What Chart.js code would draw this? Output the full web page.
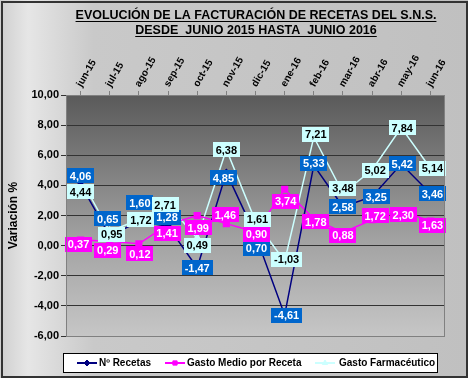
<!DOCTYPE html>
<html>
<head>
<meta charset="utf-8">
<script src="https://cdn.jsdelivr.net/npm/chart.js@4/dist/chart.umd.min.js"></script>
<style>
  body { margin: 0; background: #c0c0c0; }
</style>
</head>
<body>
<canvas id="grafico" width="468" height="378"></canvas>
<script>
// Datos
const meses = ['jun-15', 'jul-15', 'ago-15', 'sep-15', 'oct-15', 'nov-15', 'dic-15',
               'ene-16', 'feb-16', 'mar-16', 'abr-16', 'may-16', 'jun-16'];
const recetas = [4.06, 0.65, 1.60, 1.28, -1.47, 4.85, 0.70, -4.61, 5.33, 2.58, 3.25, 5.42, 3.46];
const gastoMedio = [0.37, 0.29, 0.12, 1.41, 1.99, 1.46, 0.90, 3.74, 1.78, 0.88, 1.72, 2.30, 1.63];
const gastoFarma = [4.44, 0.95, 1.72, 2.71, 0.49, 6.38, 1.61, -1.03, 7.21, 3.48, 5.02, 7.84, 5.14];
const yMin = -6, yMax = 10, yPaso = 2;

// desplazamiento de las etiquetas respecto al punto (px)
const despRecetasY = [-9, -17, -19, -9, 0, 5, 13, 0, -2, 0, 0, 0, 0];
const despRecetasX = [0, -2, 1, -1, 0, -3, 1, 2, 0, 0, 4, 1, 2];
const despFarmaY = [13, 3, 0, 0, 7, 0, -2, -2, -3, -5, 0, 0, 0];
const despFarmaX = [0, 2, 2, -3, 0, 0, 2, 2, 2, 0, 3, 1, 2];
const despMedioY = [4, 9, 10, 9, 12, -9, 2, 12, 3, 3, -4, 4, 4];
const despMedioX = [-2, -2, 1, -1, 1, -1, 1, 1, 2, 0, 3, 2, 2];

const fmt = v => v.toFixed(2).replace('.', ',');
const fuente = '"Liberation Sans", Arial, sans-serif';

// fondo, marco y título
const fondo = {
  id: 'fondo',
  beforeDraw(chart) {
    const ctx = chart.ctx, a = chart.chartArea;
    ctx.save();
    let g = ctx.createLinearGradient(0, 0, chart.width, 0);
    g.addColorStop(0, '#cfcfcf');
    g.addColorStop(0.06, '#e6e6e6');
    g.addColorStop(0.2, '#c9c9c9');
    g.addColorStop(1, '#c0c0c0');
    ctx.fillStyle = g;
    ctx.fillRect(0, 0, chart.width, chart.height);
    ctx.strokeStyle = '#333';
    ctx.lineWidth = 2;
    ctx.strokeRect(2, 2, chart.width - 3, chart.height - 3);

    g = ctx.createLinearGradient(0, a.top, 0, a.bottom);
    g.addColorStop(0, '#5a5a5a');
    g.addColorStop(0.6, '#a2a2a2');
    g.addColorStop(1, '#c6c6c6');
    ctx.fillStyle = g;
    ctx.fillRect(a.left, a.top, a.right - a.left, a.bottom - a.top);

    // título subrayado
    ctx.fillStyle = '#000';
    ctx.strokeStyle = '#000';
    ctx.lineWidth = 1;
    ctx.font = 'bold 12.5px ' + fuente;
    ctx.textAlign = 'center';
    ctx.textBaseline = 'alphabetic';
    const lineas = ['EVOLUCIÓN DE LA FACTURACIÓN DE RECETAS DEL S.N.S.', 'DESDE  JUNIO 2015 HASTA  JUNIO 2016'];
    lineas.forEach((t, i) => {
      const y = 19 + i * 15, cx = 256;
      ctx.fillText(t, cx, y);
      const w = ctx.measureText(t).width;
      ctx.beginPath();
      ctx.moveTo(cx - w / 2, y + 2.5);
      ctx.lineTo(cx + w / 2, y + 2.5);
      ctx.stroke();
    });
    ctx.restore();
  },
  afterDraw(chart) {
    const ctx = chart.ctx, a = chart.chartArea;
    ctx.save();
    ctx.strokeStyle = '#808080';
    ctx.lineWidth = 1;
    ctx.strokeRect(a.left + 0.5, a.top + 0.5, a.right - a.left - 1, a.bottom - a.top);

    // leyenda
    ctx.fillStyle = '#fff';
    ctx.fillRect(63, 353, 374, 19);
    ctx.strokeStyle = '#000';
    ctx.strokeRect(63.5, 353.5, 374, 19);
    const posX = [77, 165, 315];
    ctx.font = 'bold 10px ' + fuente;
    ctx.textBaseline = 'middle';
    ctx.textAlign = 'left';
    chart.data.datasets.forEach((ds, i) => {
      const x = posX[i], y = 363;
      ctx.strokeStyle = ds.borderColor;
      ctx.lineWidth = 2;
      ctx.beginPath();
      ctx.moveTo(x, y);
      ctx.lineTo(x + 20, y);
      ctx.stroke();
      ctx.fillStyle = ds.pointBackgroundColor;
      ctx.strokeStyle = ds.borderColor;
      ctx.lineWidth = 1;
      Chart.helpers.drawPoint(ctx, {pointStyle: ds.pointStyle, radius: 3, rotation: 0, borderWidth: 1}, x + 10, y);
      ctx.fillStyle = '#000';
      ctx.fillText(ds.label, x + (i === 2 ? 24 : 22), y + 0.5);
    });
    ctx.restore();
  }
};

// etiquetas de datos en cajas
const etiquetas = {
  id: 'etiquetas',
  afterDatasetsDraw(chart) {
    const ctx = chart.ctx;
    ctx.save();
    ctx.font = 'bold 11px ' + fuente;
    ctx.textAlign = 'center';
    ctx.textBaseline = 'middle';
    [0, 2, 1].forEach(i => {
      const ds = chart.data.datasets[i];
      chart.getDatasetMeta(i).data.forEach((pt, j) => {
        const txt = fmt(ds.data[j]);
        const x = pt.x + ds.despX[j], y = pt.y + ds.despY[j];
        const w = Math.round(ctx.measureText(txt).width + 6), h = 15;
        ctx.fillStyle = ds.cajaColor;
        ctx.fillRect(Math.round(x - w / 2), Math.round(y - h / 2), w, h);
        ctx.fillStyle = ds.textoColor;
        ctx.fillText(txt, x, y + 1);
      });
    });
    ctx.restore();
  }
};

new Chart(document.getElementById('grafico'), {
  type: 'line',
  data: {
    labels: meses,
    datasets: [
      {
        label: 'Nº Recetas', data: recetas,
        borderColor: '#000080', backgroundColor: '#000080', pointBackgroundColor: '#000080',
        pointStyle: 'rectRot', pointRadius: 3, borderWidth: 1.5,
        cajaColor: '#0066cc', textoColor: '#fff', despX: despRecetasX, despY: despRecetasY
      },
      {
        label: 'Gasto Medio por Receta', data: gastoMedio,
        borderColor: '#ff00ff', backgroundColor: '#ff00ff', pointBackgroundColor: '#ff00ff',
        pointStyle: 'rect', pointRadius: 4, borderWidth: 1.5,
        cajaColor: '#ff00ff', textoColor: '#fff', despX: despMedioX, despY: despMedioY
      },
      {
        label: 'Gasto Farmacéutico', data: gastoFarma,
        borderColor: '#ccffff', backgroundColor: '#ccffff', pointBackgroundColor: '#ccffff',
        pointStyle: 'triangle', pointRadius: 4, borderWidth: 1.5,
        cajaColor: '#ccffff', textoColor: '#000', despX: despFarmaX, despY: despFarmaY
      }
    ]
  },
  options: {
    responsive: false,
    animation: false,
    layout: { padding: { left: 4, top: 40, right: 23, bottom: 42 } },
    plugins: {
      legend: { display: false },
      tooltip: { enabled: false }
    },
    scales: {
      x: {
        position: 'top',
        offset: true,
        afterFit: s => { s.height = 55; },
        grid: { drawOnChartArea: false, tickLength: 4, color: '#808080' },
        border: { display: false },
        ticks: {
          maxRotation: 60, minRotation: 60, padding: 2, labelOffset: 9,
          color: '#000', font: { family: fuente, size: 10, weight: 'bold' }
        }
      },
      y: {
        min: yMin, max: yMax,
        afterFit: s => { s.width = 62; },
        grid: { color: '#333', tickLength: 5 },
        border: { display: false },
        title: {
          display: true, text: 'Variación %', color: '#000', padding: 2,
          font: { family: fuente, size: 12, weight: 'bold' }
        },
        ticks: {
          stepSize: yPaso, padding: 2, color: '#000',
          font: { family: fuente, size: 11, weight: 'bold' },
          callback: v => fmt(v)
        }
      }
    }
  },
  plugins: [fondo, etiquetas]
});
</script>
</body>
</html>
